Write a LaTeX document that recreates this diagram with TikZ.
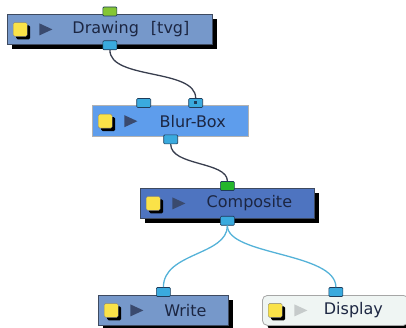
\documentclass[tikz,border=0pt]{standalone}
\usepackage{fontspec}
\setmainfont{DejaVu Sans}
\usetikzlibrary{positioning, shadows}
\definecolor{nodeblue}{RGB}{118,152,202}
\definecolor{compblue}{RGB}{78,116,192}
\definecolor{blurblue}{RGB}{94,157,236}
\definecolor{dispfill}{RGB}{239,245,243}
\definecolor{boxline}{RGB}{62,74,96}
\definecolor{portblue}{RGB}{58,170,222}
\definecolor{portline}{RGB}{30,60,90}
\definecolor{limegreen}{RGB}{132,198,52}
\definecolor{compgreen}{RGB}{36,182,44}
\definecolor{labelnavy}{RGB}{28,38,66}
\definecolor{wiregray}{RGB}{56,62,78}
\definecolor{wireblue}{RGB}{84,178,216}
\definecolor{iconyellow}{RGB}{250,226,72}
\definecolor{tridark}{RGB}{58,74,110}
\definecolor{trilight}{RGB}{198,203,203}

\begin{document}
\begin{tikzpicture}[
  x=1pt, y=-1pt,
  nodebox/.style={draw=boxline, line width=0.8pt, minimum height=30pt, anchor=north west, inner sep=0pt},
  shadowed/.style={general shadow={fill=black, shadow xshift=5pt, shadow yshift=-5pt}},
  nodelabel/.style={text=labelnavy, font=\fontsize{16}{18}\selectfont, inner sep=0pt},
  icon/.style={draw=black!50, fill=iconyellow, minimum width=14pt, minimum height=14pt, inner sep=0pt, rounded corners=1.5pt, general shadow={fill=black, shadow xshift=3pt, shadow yshift=-3pt}},
  port/.style={draw=portline, fill=portblue, line width=0.6pt, minimum width=14pt, minimum height=9pt, inner sep=0pt, rounded corners=1pt},
  portdot/.style={fill=portline, minimum size=3pt, inner sep=0pt},
  wiredark/.style={draw=wiregray, line width=1.3pt},
  wirelight/.style={draw=wireblue, line width=1.3pt}
]
  \useasboundingbox (0,0) rectangle (406,328);

  % Drawing [tvg]
  \node[nodebox, shadowed, fill=nodeblue, minimum width=205pt] (drawing) at (7,14) {};
  \node[nodelabel] (drawinglabel) at ([xshift=21pt]drawing.center) {Drawing\hspace{12pt}[tvg]};
  \node[icon, right=6pt of drawing.west] (drawingicon) {};
  \coordinate[right=12pt of drawingicon.east] (drawingtri);
  \fill[tridark] (drawingtri) ++(0,-6) -- ++(13,6) -- ++(-13,6) -- cycle;
  \node[port, fill=limegreen] (drawingin) at ([yshift=2.5pt]drawing.north) {};
  \node[port] (drawingout) at ([yshift=-0.5pt]drawing.south) {};

  % Blur-Box
  \node[nodebox, draw=gray!60, line width=1.4pt, fill=blurblue, minimum width=156pt, minimum height=31pt] (blur) at (92,105) {};
  \node[nodelabel] (blurlabel) at ([xshift=22pt]blur.center) {Blur-Box};
  \node[icon, right=6pt of blur.west] (bluricon) {};
  \coordinate[right=12pt of bluricon.east] (blurtri);
  \fill[tridark] (blurtri) ++(0,-6) -- ++(13,6) -- ++(-13,6) -- cycle;
  \node[port] (blurinone) at ([xshift=-27pt, yshift=2pt]blur.north) {};
  \node[port] (blurintwo) at ([xshift=25pt, yshift=2pt]blur.north) {};
  \node[portdot] (blurdot) at (blurintwo) {};
  \node[port] (blurout) at ([yshift=-2pt]blur.south) {};

  % Composite
  \node[nodebox, shadowed, fill=compblue, minimum width=174pt] (comp) at (140,188) {};
  \node[nodelabel] (complabel) at ([xshift=22pt]comp.center) {Composite};
  \node[icon, right=6pt of comp.west] (compicon) {};
  \coordinate[right=12pt of compicon.east] (comptri);
  \fill[tridark] (comptri) ++(0,-6) -- ++(13,6) -- ++(-13,6) -- cycle;
  \node[port, fill=compgreen] (compin) at ([yshift=2pt]comp.north) {};
  \node[port] (compout) at ([yshift=-2pt]comp.south) {};

  % Write
  \node[nodebox, shadowed, fill=nodeblue, minimum width=130pt] (write) at (98,295) {};
  \node[nodelabel] (writelabel) at ([xshift=22pt]write.center) {Write};
  \node[icon, right=6pt of write.west] (writeicon) {};
  \coordinate[right=12pt of writeicon.east] (writetri);
  \fill[tridark] (writetri) ++(0,-6) -- ++(13,6) -- ++(-13,6) -- cycle;
  \node[port] (writein) at ([yshift=3pt]write.north) {};

  % Display
  \node[nodebox, shadowed, draw=gray!70, fill=dispfill, rounded corners=5pt, minimum width=146pt] (display) at (262,295) {};
  \node[nodelabel] (displaylabel) at ([xshift=18pt]display.center) {Display};
  \node[icon, right=6pt of display.west] (displayicon) {};
  \coordinate[right=12pt of displayicon.east] (displaytri);
  \fill[trilight] (displaytri) ++(0,-6) -- ++(13,6) -- ++(-13,6) -- cycle;
  \node[port] (displayin) at ([xshift=0.5pt, yshift=3pt]display.north) {};

  % wires
  \draw[wiredark] (drawingout.south) .. controls +(0,30) and +(0,-30) .. (blurintwo.north);
  \draw[wiredark] (blurout.south) .. controls +(0,22) and +(0,-20) .. (compin.north);
  \draw[wirelight] (compout.south) .. controls +(0,30) and +(0,-35) .. (writein.north);
  \draw[wirelight] (compout.south) .. controls +(0,30) and +(0,-35) .. (displayin.north);
\end{tikzpicture}
\end{document}
